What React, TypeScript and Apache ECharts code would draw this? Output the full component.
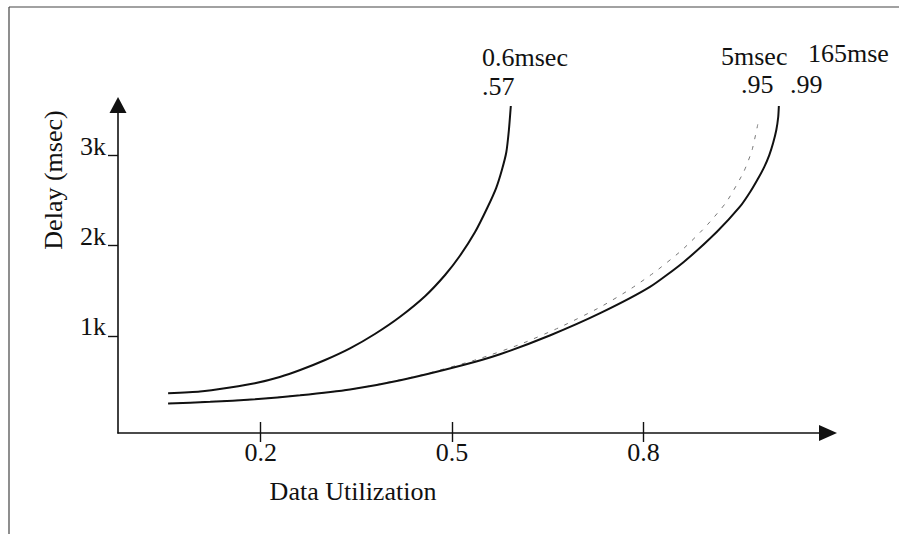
import React, { useEffect, useRef } from "react";
import * as echarts from "echarts";

// Tick values
const xTicks = [0.2, 0.5, 0.8];
const yTicks = [1000, 2000, 3000];

// 0.6 msec curve (ends near .57)
const fastX = [0.055, 0.105, 0.152, 0.191, 0.23, 0.262, 0.301, 0.34, 0.379, 0.418, 0.458, 0.489, 0.512, 0.536, 0.555, 0.569, 0.578, 0.585, 0.589, 0.592];
const fastY = [365, 385, 430, 476, 546, 623, 734, 863, 1022, 1210, 1443, 1675, 1885, 2151, 2417, 2638, 2838, 3037, 3280, 3546];

// 165 msec curve (ends near .99)
const slowX = [0.055, 0.121, 0.191, 0.262, 0.34, 0.419, 0.516, 0.575, 0.654, 0.732, 0.81, 0.863, 0.915, 0.951, 0.967, 0.979, 0.989, 0.997, 1.003, 1.008, 1.011, 1.012];
const slowY = [252, 271, 299, 343, 407, 510, 676, 798, 1008, 1252, 1543, 1820, 2154, 2431, 2594, 2738, 2870, 3003, 3136, 3280, 3424, 3546];

// 5 msec curve (dashed, ends near .95)
const midX = [0.055, 0.191, 0.34, 0.45, 0.538, 0.607, 0.669, 0.732, 0.779, 0.818, 0.86, 0.897, 0.93, 0.957, 0.97, 0.979];
const midY = [252, 299, 407, 565, 738, 909, 1097, 1319, 1518, 1710, 1950, 2208, 2485, 2818, 3058, 3343];

const annotations = ["0.6msec", ".57", "5msec", ".95", ".99", "165mse"];

const FONT = '"Liberation Serif", "Times New Roman", serif';

function pairs(xs: number[], ys: number[]) {
  return xs.map((x, i) => [x, ys[i]]);
}

export default function App() {
  const ref = useRef<HTMLDivElement>(null);
  useEffect(() => {
    const chart = echarts.init(ref.current!, null, { renderer: "svg" });
    const textStyle = (text: string, x: number, y: number, align = "left") => ({
      type: "text",
      x,
      y,
      style: {
        text,
        fontFamily: FONT,
        fontSize: 26,
        fill: "#111",
        align,
        verticalAlign: "middle",
      },
    });
    const xMin = -0.0235;
    const xMax = 1.089;
    const option: any = {
      animation: false,
      backgroundColor: "#fff",
      grid: { left: 118, right: 71, top: 105, bottom: 101 },
      xAxis: [
        {
          type: "value",
          min: xMin,
          max: xMax,
          position: "bottom",
          splitLine: { show: false },
          axisLine: {
            show: true,
            onZero: false,
            lineStyle: { color: "#111", width: 1.6 },
            symbol: ["none", "triangle"],
            symbolSize: [16, 18],
          },
          axisTick: {
            show: true,
            inside: false,
            length: 9,
            customValues: xTicks,
            lineStyle: { color: "#111", width: 1.4 },
          },
          axisLabel: {
            customValues: xTicks,
            formatter: (v: number) => v.toFixed(1),
            fontFamily: FONT,
            fontSize: 26,
            color: "#111",
            margin: 6,
            lineHeight: 26,
          },
        },
        {
          type: "value",
          min: xMin,
          max: xMax,
          position: "bottom",
          splitLine: { show: false },
          axisLine: { show: false, onZero: false },
          axisTick: {
            show: true,
            inside: true,
            length: 11,
            customValues: xTicks,
            lineStyle: { color: "#111", width: 1.4 },
          },
          axisLabel: { show: false },
        },
      ],
      yAxis: {
        type: "value",
        min: -74,
        max: 3557,
        splitLine: { show: false },
        axisLine: {
          show: true,
          onZero: false,
          lineStyle: { color: "#111", width: 1.6 },
          symbol: ["none", "triangle"],
          symbolSize: [17, 16],
        },
        axisTick: {
          show: true,
          inside: false,
          length: 10,
          customValues: yTicks,
          lineStyle: { color: "#111", width: 1.4 },
        },
        axisLabel: {
          customValues: yTicks,
          formatter: (v: number) => v / 1000 + "k",
          fontFamily: FONT,
          fontSize: 26,
          color: "#111",
          margin: 12,
          verticalAlign: "bottom",
          lineHeight: 18,
        },
      },
      series: [
        {
          name: "0.6msec",
          type: "line",
          data: pairs(fastX, fastY),
          showSymbol: false,
          smooth: 0.2,
          lineStyle: { color: "#111", width: 2 },
        },
        {
          name: "5msec",
          type: "line",
          data: pairs(midX, midY),
          showSymbol: false,
          smooth: 0.2,
          lineStyle: { color: "#777", width: 1, type: [4, 7] },
        },
        {
          name: "165msec",
          type: "line",
          data: pairs(slowX, slowY),
          showSymbol: false,
          smooth: 0.2,
          lineStyle: { color: "#111", width: 2 },
        },
      ],
      graphic: [
        { type: "line", shape: { x1: 9, y1: 7, x2: 899, y2: 7 }, style: { stroke: "#444", lineWidth: 1.2 } },
        { type: "line", shape: { x1: 9, y1: 7, x2: 9, y2: 534 }, style: { stroke: "#444", lineWidth: 1.2 } },
        {
          type: "text",
          x: 53,
          y: 180,
          rotation: Math.PI / 2,
          style: {
            text: "Delay (msec)",
            fontFamily: FONT,
            fontSize: 26,
            fill: "#111",
            align: "center",
            verticalAlign: "middle",
          },
        },
        textStyle("Data Utilization", 353, 491, "center"),
        textStyle(annotations[0], 482, 57),
        textStyle(annotations[1], 482, 86),
        textStyle(annotations[2], 721, 56),
        textStyle(annotations[3], 741, 84),
        textStyle(annotations[4], 790, 84),
        textStyle(annotations[5], 808, 53),
      ],
    };
    chart.setOption(option);
    return () => chart.dispose();
  }, []);
  return (
    <div
      ref={ref}
      style={{ position: "fixed", left: 0, top: 0, width: 899, height: 534, background: "#fff" }}
    />
  );
}
